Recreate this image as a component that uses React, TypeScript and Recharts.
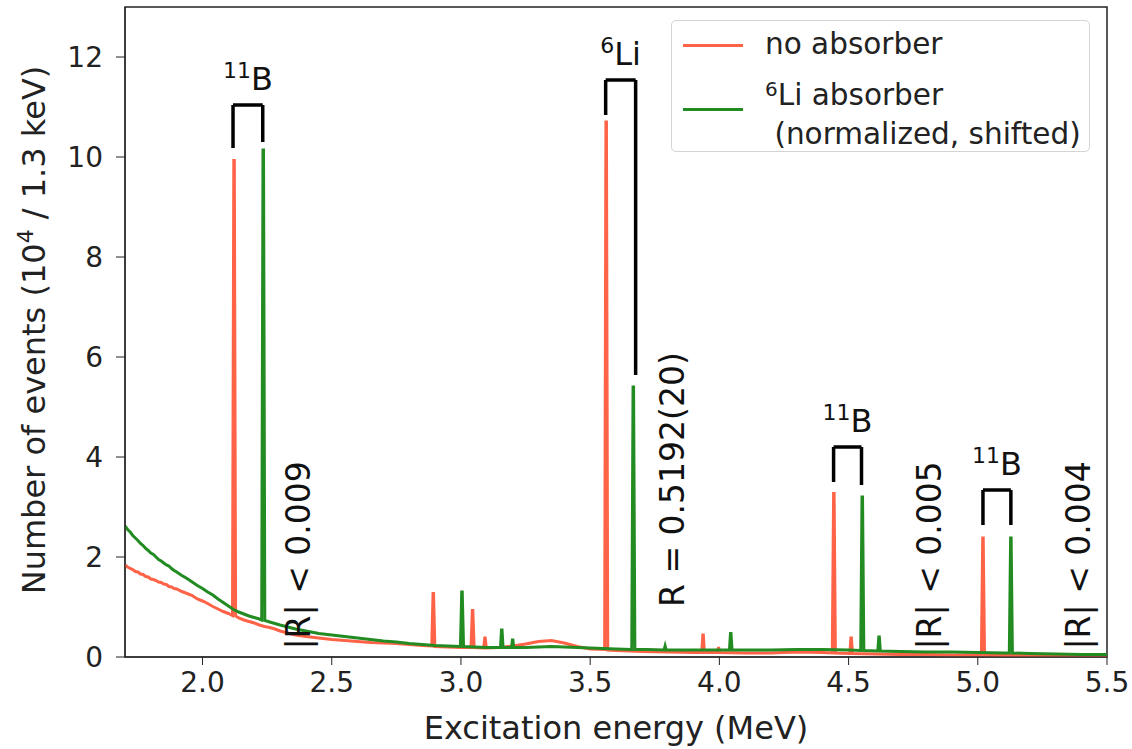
import React from "react";
import {
  LineChart,
  Line,
  XAxis,
  YAxis,
  ReferenceArea,
  ReferenceLine,
  ReferenceDot,
} from "recharts";

const FONT = "'DejaVu Sans', sans-serif";
const RED = "#ff6347";
const GREEN = "#228b22";

const energyTicks = [2.0, 2.5, 3.0, 3.5, 4.0, 4.5, 5.0, 5.5];
const countTicks = [0, 2, 4, 6, 8, 10, 12];

// [excitation energy (MeV), events (10^4 / 1.3 keV)]
const noAbsorber: [number, number][] = [
  [1.7, 1.84], [1.71, 1.8], [1.72, 1.77], [1.73, 1.75], [1.74, 1.71], [1.75, 1.7],
  [1.76, 1.66], [1.77, 1.65], [1.78, 1.61], [1.79, 1.6], [1.8, 1.56], [1.81, 1.55],
  [1.82, 1.53], [1.83, 1.5], [1.84, 1.49], [1.85, 1.46], [1.86, 1.45], [1.87, 1.41],
  [1.88, 1.4], [1.89, 1.37], [1.9, 1.36], [1.92, 1.31], [1.94, 1.27], [1.96, 1.23],
  [1.98, 1.16], [2.0, 1.12], [2.02, 1.07], [2.04, 1.01], [2.06, 0.96], [2.08, 0.91],
  [2.1, 0.87], [2.116, 0.83], [2.121, 9.93], [2.123, 9.93], [2.128, 0.82], [2.14, 0.78],
  [2.16, 0.74], [2.18, 0.71], [2.2, 0.68], [2.22, 0.64], [2.24, 0.61], [2.26, 0.59],
  [2.28, 0.56], [2.3, 0.52], [2.33, 0.48], [2.36, 0.44], [2.4, 0.41], [2.45, 0.38],
  [2.5, 0.35], [2.55, 0.33], [2.6, 0.31], [2.65, 0.29], [2.7, 0.28], [2.75, 0.27],
  [2.8, 0.25], [2.85, 0.23], [2.887, 0.22], [2.892, 1.27], [2.894, 1.27], [2.899, 0.21],
  [2.95, 0.2], [3.0, 0.19], [3.039, 0.19], [3.044, 0.93], [3.046, 0.93], [3.051, 0.19],
  [3.088, 0.18], [3.092, 0.38], [3.094, 0.38], [3.098, 0.18], [3.15, 0.19], [3.2, 0.22],
  [3.25, 0.26], [3.3, 0.31], [3.35, 0.33], [3.4, 0.28], [3.45, 0.21], [3.5, 0.16],
  [3.556, 0.15], [3.561, 10.7], [3.563, 10.7], [3.568, 0.14], [3.6, 0.13], [3.65, 0.12],
  [3.7, 0.11], [3.8, 0.1], [3.9, 0.09], [3.932, 0.09], [3.936, 0.44], [3.938, 0.44],
  [3.942, 0.09], [3.993, 0.09], [3.997, 0.2], [4.001, 0.09], [4.1, 0.08], [4.2, 0.08],
  [4.3, 0.1], [4.4, 0.09], [4.437, 0.08], [4.442, 3.27], [4.444, 3.27], [4.449, 0.08],
  [4.505, 0.07], [4.509, 0.38], [4.511, 0.38], [4.515, 0.07], [4.6, 0.06], [4.7, 0.05],
  [4.8, 0.05], [4.9, 0.04], [5.014, 0.04], [5.019, 2.38], [5.021, 2.38], [5.026, 0.04],
  [5.1, 0.03], [5.2, 0.03], [5.3, 0.02], [5.4, 0.02], [5.5, 0.02],
];

const li6Absorber: [number, number][] = [
  [1.7, 2.62], [1.71, 2.55], [1.72, 2.5], [1.73, 2.43], [1.74, 2.38], [1.75, 2.33],
  [1.76, 2.27], [1.77, 2.23], [1.78, 2.17], [1.79, 2.13], [1.8, 2.08], [1.81, 2.05],
  [1.82, 2.0], [1.83, 1.95], [1.84, 1.92], [1.85, 1.88], [1.86, 1.84], [1.87, 1.82],
  [1.88, 1.77], [1.89, 1.73], [1.9, 1.7], [1.92, 1.63], [1.94, 1.57], [1.96, 1.5],
  [1.98, 1.43], [2.0, 1.37], [2.02, 1.3], [2.04, 1.24], [2.06, 1.16], [2.08, 1.09],
  [2.1, 1.02], [2.12, 0.95], [2.14, 0.9], [2.16, 0.86], [2.18, 0.82], [2.2, 0.79],
  [2.22, 0.76], [2.229, 0.74], [2.234, 10.14], [2.236, 10.14], [2.241, 0.73], [2.26, 0.7],
  [2.28, 0.67], [2.3, 0.64], [2.33, 0.6], [2.36, 0.56], [2.4, 0.52], [2.45, 0.47],
  [2.5, 0.44], [2.55, 0.41], [2.6, 0.38], [2.65, 0.35], [2.7, 0.32], [2.75, 0.3],
  [2.8, 0.27], [2.85, 0.25], [2.9, 0.23], [2.95, 0.22], [2.998, 0.21], [3.003, 1.3],
  [3.005, 1.3], [3.01, 0.21], [3.05, 0.2], [3.1, 0.19], [3.153, 0.19], [3.157, 0.54],
  [3.159, 0.54], [3.163, 0.19], [3.196, 0.19], [3.199, 0.34], [3.201, 0.34], [3.204, 0.19],
  [3.25, 0.19], [3.3, 0.2], [3.35, 0.21], [3.4, 0.2], [3.45, 0.19], [3.5, 0.18],
  [3.55, 0.17], [3.6, 0.16], [3.661, 0.15], [3.666, 5.4], [3.668, 5.4], [3.673, 0.15],
  [3.72, 0.15], [3.786, 0.14], [3.79, 0.22], [3.794, 0.14], [3.9, 0.14], [4.0, 0.14],
  [4.039, 0.14], [4.043, 0.47], [4.045, 0.47], [4.049, 0.14], [4.1, 0.14], [4.2, 0.14],
  [4.3, 0.15], [4.4, 0.15], [4.5, 0.14], [4.547, 0.13], [4.552, 3.2], [4.554, 3.2],
  [4.559, 0.13], [4.613, 0.12], [4.617, 0.4], [4.619, 0.4], [4.623, 0.12], [4.7, 0.11],
  [4.8, 0.1], [4.9, 0.1], [5.0, 0.09], [5.1, 0.08], [5.122, 0.08], [5.127, 2.38],
  [5.129, 2.38], [5.134, 0.08], [5.2, 0.07], [5.3, 0.06], [5.4, 0.05], [5.5, 0.05],
];

// peak-pair brackets: isotope label, the two legs and the bracket top (data coords)
const brackets = [
  { mass: "11", el: "B", left: 2.118, right: 2.233, top: 11.04, leftEnd: 10.18, rightEnd: 10.3, labelY: 11.34 },
  { mass: "6", el: "Li", left: 3.56, right: 3.676, top: 11.54, leftEnd: 10.84, rightEnd: 5.64, labelY: 11.84 },
  { mass: "11", el: "B", left: 4.442, right: 4.55, top: 4.2, leftEnd: 3.5, rightEnd: 3.44, labelY: 4.5 },
  { mass: "11", el: "B", left: 5.02, right: 5.128, top: 3.34, leftEnd: 2.64, rightEnd: 2.64, labelY: 3.64 },
];

const ratioNotes = [
  { text: "|R| < 0.009", e: 2.369, n: 0.15 },
  { text: "R = 0.5192(20)", e: 3.818, n: 1.0 },
  { text: "|R| < 0.005", e: 4.811, n: 0.15 },
  { text: "|R| < 0.004", e: 5.389, n: 0.15 },
];

const redData = noAbsorber.map(([e, n]) => ({ e, n }));
const greenData = li6Absorber.map(([e, n]) => ({ e, n }));

const IsotopeLabel = ({ viewBox, mass, el }: any) => {
  const cx = viewBox.x + (viewBox.width || 0) / 2;
  const cy = viewBox.y + (viewBox.height || 0) / 2;
  return (
    <text x={cx} y={cy} textAnchor="middle" fontFamily={FONT} fill="#111">
      <tspan fontSize={22} dy={-12}>{mass}</tspan>
      <tspan fontSize={32} dy={12}>{el}</tspan>
    </text>
  );
};

const RotatedNote = ({ viewBox, text }: any) => {
  const cx = viewBox.x + (viewBox.width || 0) / 2;
  const cy = viewBox.y + (viewBox.height || 0) / 2;
  return (
    <text
      x={cx}
      y={cy}
      transform={`rotate(-90 ${cx} ${cy})`}
      textAnchor="start"
      dy="0.36em"
      fontFamily={FONT}
      fontSize={33}
      fill="#111"
    >
      {text}
    </text>
  );
};

const LegendBox = () => (
  <div
    style={{
      position: "absolute",
      left: 671,
      top: 20,
      width: 419,
      height: 132,
      boxSizing: "border-box",
      border: "1px solid #d4d4d4",
      borderRadius: 5,
      background: "rgba(255,255,255,0.85)",
      fontFamily: FONT,
      fontSize: 29.5,
      color: "#222",
    }}
  >
    <div style={{ position: "absolute", left: 11, top: 23, width: 60, height: 3, background: RED }} />
    <div style={{ position: "absolute", left: 93, top: 5, lineHeight: "36px" }}>no absorber</div>
    <div style={{ position: "absolute", left: 11, top: 87, width: 60, height: 3, background: GREEN }} />
    <div style={{ position: "absolute", left: 93, top: 49, lineHeight: "39px", whiteSpace: "pre" }}>
      <sup style={{ fontSize: 20, verticalAlign: "9px" }}>6</sup>Li absorber
      {"\n"} (normalized, shifted)
    </div>
  </div>
);

const YLabel = ({ viewBox }: any) => {
  const x = 45;
  const y = viewBox.y + viewBox.height / 2 - 2;
  return (
    <text x={x} y={y} transform={`rotate(-90 ${x} ${y})`} textAnchor="middle" fontFamily={FONT} fontSize={32} fill="#222">
      Number of events (10
      <tspan fontSize={22} dy={-12}>4</tspan>
      <tspan dy={12}> / 1.3 keV)</tspan>
    </text>
  );
};

const XLabel = ({ viewBox }: any) => (
  <text x={viewBox.x + viewBox.width / 2} y={739} textAnchor="middle" fontFamily={FONT} fontSize={32} fill="#222">
    Excitation energy (MeV)
  </text>
);

export default function App() {
  const bracketLines = brackets.flatMap((b, i) => [
    <ReferenceLine key={`l${i}`} segment={[{ x: b.left, y: b.leftEnd }, { x: b.left, y: b.top }]} stroke="#000" strokeWidth={3.5} />,
    <ReferenceLine key={`t${i}`} segment={[{ x: b.left, y: b.top }, { x: b.right, y: b.top }]} stroke="#000" strokeWidth={3.5} />,
    <ReferenceLine key={`r${i}`} segment={[{ x: b.right, y: b.top }, { x: b.right, y: b.rightEnd }]} stroke="#000" strokeWidth={3.5} />,
    <ReferenceDot
      key={`d${i}`}
      x={(b.left + b.right) / 2}
      y={b.labelY}
      r={0}
      fill="none"
      stroke="none"
      label={(p: any) => <IsotopeLabel {...p} mass={b.mass} el={b.el} />}
    />,
  ]);

  return (
    <div style={{ position: "absolute", left: 0, top: 0, width: 1132, height: 749, background: "#fff" }}>
      <LineChart width={1132} height={749} margin={{ top: 7, right: 25, bottom: 0, left: 0 }}>
        <XAxis
          dataKey="e"
          type="number"
          domain={[1.7, 5.5]}
          ticks={energyTicks}
          allowDataOverflow
          tickFormatter={(v: number) => v.toFixed(1)}
          tick={{ fontFamily: FONT, fontSize: 28, fill: "#222" }}
          tickSize={8}
          tickMargin={7}
          height={92}
          stroke="#222"
          label={(p: any) => <XLabel {...p} />}
        />
        <YAxis
          type="number"
          domain={[0, 13]}
          ticks={countTicks}
          allowDataOverflow
          tick={{ fontFamily: FONT, fontSize: 28, fill: "#222" }}
          tickSize={9}
          tickMargin={13}
          width={125}
          stroke="#222"
          label={(p: any) => <YLabel {...p} />}
        />
        <ReferenceArea x1={1.7} x2={5.5} y1={0} y2={13} fill="none" stroke="#222" strokeWidth={1.5} />
        <Line
          data={redData}
          dataKey="n"
          name="no absorber"
          type="linear"
          stroke={RED}
          strokeWidth={3}
          dot={false}
          isAnimationActive={false}
        />
        <Line
          data={greenData}
          dataKey="n"
          name="6Li absorber (normalized, shifted)"
          type="linear"
          stroke={GREEN}
          strokeWidth={3}
          dot={false}
          isAnimationActive={false}
        />
        {bracketLines}
        {ratioNotes.map((r, i) => (
          <ReferenceDot
            key={`n${i}`}
            x={r.e}
            y={r.n}
            r={0}
            fill="none"
            stroke="none"
            label={(p: any) => <RotatedNote {...p} text={r.text} />}
          />
        ))}
      </LineChart>
      <LegendBox />
    </div>
  );
}
